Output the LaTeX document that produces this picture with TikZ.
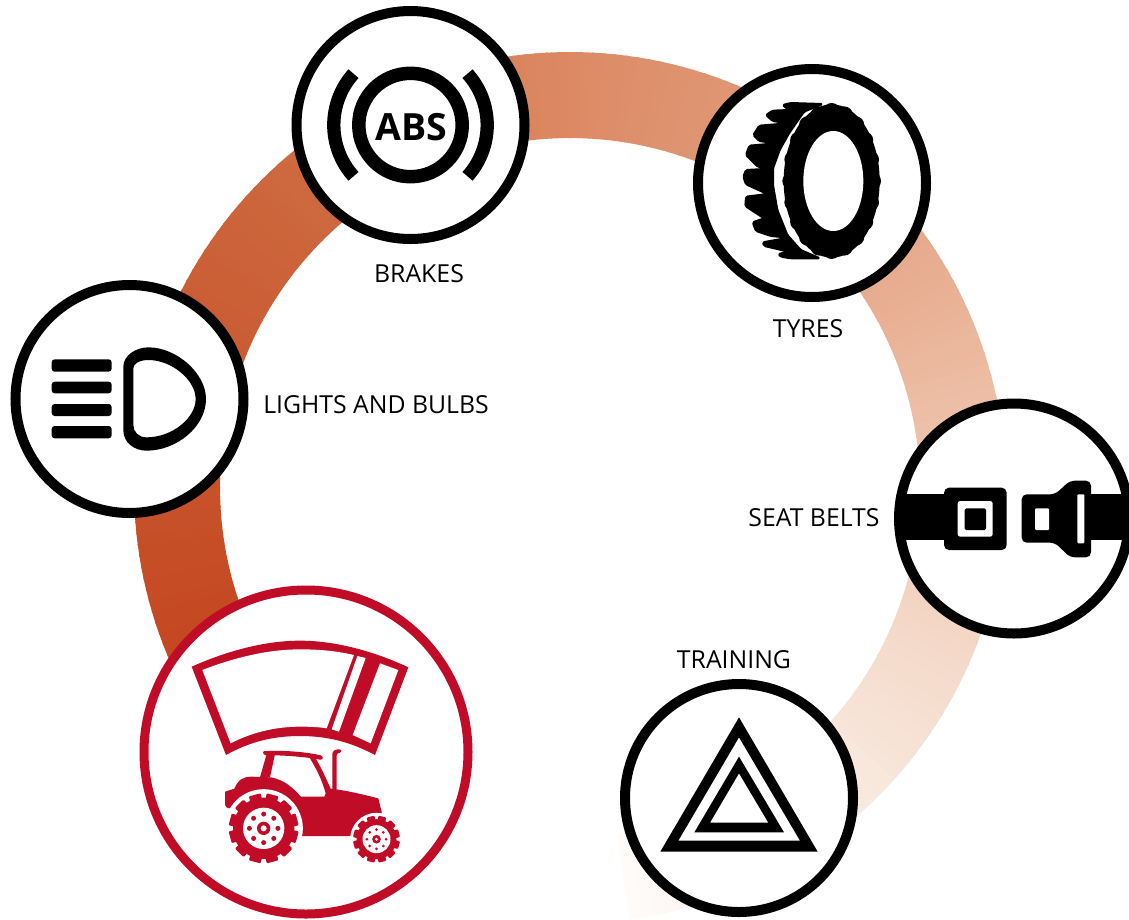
\documentclass[tikz,border=0pt]{standalone}
\usepackage{fontspec}
\usetikzlibrary{calc}
\setmainfont{Open Sans}
\definecolor{rd}{RGB}{193,12,39}
\definecolor{s0}{HTML}{C13E18}
\definecolor{s1}{HTML}{CD663C}
\definecolor{s2}{HTML}{DC8A64}
\definecolor{s3}{HTML}{E4A283}
\definecolor{s4}{HTML}{F0C8B2}
\definecolor{s5}{HTML}{F8E8DD}
\definecolor{s6}{HTML}{FEFBF9}
\tikzset{
  badge/.style={circle,draw=black,fill=white,line width=10pt,inner sep=0pt,minimum size=228pt},
  redbadge/.style={circle,draw=rd,fill=white,line width=9pt,inner sep=0pt,minimum size=324pt},
  lbl/.style={font=\fontsize{24.8}{28}\selectfont,text=black,inner sep=0pt},
  zoomed/.style={scale=0.33333}
}
\newcommand{\gearwheel}[9]{% cx cy R body lugw rim hub hole studR
  \begin{scope}[shift={(#1,#2)}]
    \fill[white] (0,0) circle (#3*1.13);
    \fill[rd] (0,0) circle (#4);
    \foreach \g in {0,30,...,330}{
      \fill[rd,rotate=\g+15,rounded corners=1pt] (#4-12,-#5/2) rectangle (#3,#5/2);
    }
    \fill[white] (0,0) circle (#6);
    \fill[rd] (0,0) circle (#7);
    \fill[white] (0,0) circle (#8);
    \foreach \g in {0,45,...,315}{
      \fill[rd] (\g:#6*0.69) circle (#9);
    }
  \end{scope}
}
\begin{document}
\begin{tikzpicture}[x=1pt,y=-1pt]
\useasboundingbox (0,0) rectangle (1129,919);
\clip (0,0) rectangle (1129,919);
\coordinate (ringc) at (570,488);
% gradient ring
\foreach \aa/\ab/\ca/\cb in {225/135/s0/s1,135/90/s1/s2,90/45/s2/s3,45/0/s3/s4,0/-45/s4/s5,-45/-82/s5/s6}{
  \pgfmathsetmacro{\nst}{int((\aa-\ab)/1.5)}
  \foreach \i in {1,...,\nst}{
    \pgfmathsetmacro{\tt}{100*(\i-0.5)/\nst}
    \pgfmathsetmacro{\ta}{\aa-(\aa-\ab)*(\i-1)/\nst+0.15}
    \pgfmathsetmacro{\tb}{\aa-(\aa-\ab)*\i/\nst-0.15}
    \colorlet{seg}{\cb!\tt!\ca}
    \fill[seg] ($(ringc)+({436*cos(\ta)},{-436*sin(\ta)})$) -- ($(ringc)+({436*cos(\tb)},{-436*sin(\tb)})$) -- ($(ringc)+({350*cos(\tb)},{-350*sin(\tb)})$) -- ($(ringc)+({350*cos(\ta)},{-350*sin(\ta)})$) -- cycle;
  }
}
% badges
\node[badge] (brakes) at (410.5,125) {};
\node[badge] (tyres) at (812,183) {};
\node[badge] (lights) at (129.5,399) {};
\node[badge,minimum size=230pt] (belts) at (1014,518.5) {};
\node[badge] (training) at (739,798) {};
\node[redbadge] (tractor) at (306,752) {};
% labels
\node[lbl] (lbrakes) at (419,273.5) {BRAKES};
\node[lbl] (ltyres) at (808,328.5) {TYRES};
\node[lbl] (llights) at (376,404.5) {LIGHTS AND BULBS};
\node[lbl] (lbelts) at (814,517.5) {SEAT BELTS};
\node[lbl] (ltrain) at (734,659.5) {TRAINING};
% ABS icon
\draw[black,line width=13.5pt] (brakes.center) circle (51.7);
\draw[black,line width=13.3pt] ($(brakes.center)+({76.7*cos(138)},{76.7*sin(138)})$) arc[start angle=138,end angle=222,radius=76.7];
\draw[black,line width=13.3pt] ($(brakes.center)+({76.7*cos(-42)},{76.7*sin(-42)})$) arc[start angle=-42,end angle=42,radius=76.7];
\node[font=\fontsize{37.5}{39}\selectfont\bfseries,inner sep=0pt,text=black] (abs) at (411,127) {ABS};
% tyre icon
\begin{scope}[shift={(690,70)},zoomed]
  \filldraw[black,line width=2pt,line join=round,rounded corners=1.5pt] (398,102) -- (302,99) -- (278,105) -- (296,120) -- (248,122) -- (228,135) -- (248,153) -- (292,160) -- (208,167) -- (190,195) -- (208,213) -- (256,220) -- (178,227) -- (168,255) -- (203,290) -- (240,296) -- (168,300) -- (160,320) -- (168,343) -- (232,372) -- (168,380) -- (166,408) -- (222,445) -- (188,457) -- (198,483) -- (243,498) -- (296,503) -- (218,517) -- (223,528) -- (296,545) -- (265,552) -- (273,560) -- (302,565) -- (390,565) -- (332,540) -- (292,495) -- (262,420) -- (249,345) -- (249,295) -- (269,240) -- (297,190) -- (342,125) -- cycle;
  \fill[black] (425,333) ellipse [x radius=144,y radius=230];
  \foreach \t in {0,18,...,342}{
    \fill[black] ({425+122*cos(\t)},{333+208*sin(\t)}) circle (26);
  }
  \fill[white] (430,333) ellipse [x radius=90,y radius=150];
\end{scope}
% lights icon
\begin{scope}[shift={(30,330)},zoomed]
  \fill[black,rounded corners=3pt] (65,88) rectangle (245,125);
  \fill[black,rounded corners=3pt] (65,155) rectangle (245,190);
  \fill[black,rounded corners=3pt] (65,222) rectangle (245,258);
  \fill[black,rounded corners=3pt] (65,288) rectangle (245,325);
  \fill[black,even odd rule] (280,110) .. controls (280,75) and (320,52) .. (355,52)
    .. controls (440,52) and (528,130) .. (528,207)
    .. controls (528,290) and (440,362) .. (350,362)
    .. controls (315,362) and (280,340) .. (280,300) -- cycle
    (310,115) .. controls (310,100) and (330,90) .. (355,90)
    .. controls (425,90) and (497,150) .. (497,207)
    .. controls (497,265) and (425,322) .. (350,322)
    .. controls (325,322) and (310,305) .. (310,285) -- cycle;
\end{scope}
% seat belt icon
\begin{scope}[shift={(890,450)},zoomed]
  \clip (372,205) circle (345);
  \fill[black] (0,133) rectangle (200,270);
  \fill[black] (590,133) rectangle (800,270);
  \fill[black,rounded corners=5pt] (162,113) rectangle (350,300);
  \fill[white,rounded corners=2.5pt] (203,153) rectangle (308,260);
  \fill[black,rounded corners=1.5pt] (224,175) rectangle (288,240);
  \fill[black,rounded corners=5pt] (395,133) -- (495,133) -- (540,92) -- (603,92) -- (603,322) -- (540,322) -- (495,278) -- (395,278) -- cycle;
  \fill[white,rounded corners=1pt] (435,175) rectangle (477,240);
  \fill[white,rounded corners=1pt] (562,133) rectangle (583,280);
\end{scope}
% triangle icon
\begin{scope}[shift={(600,670)},zoomed]
  \fill[black,even odd rule] (417,142) -- (653,545) -- (181,545) -- cycle (417,202) -- (600,512) -- (235,512) -- cycle;
  \fill[black,even odd rule] (417,260) -- (552,487) -- (283,487) -- cycle (417,310) -- (505,458) -- (330,458) -- cycle;
\end{scope}
% windscreen icon
\begin{scope}[shift={(130,580)},zoomed]
  \fill[rd] (185,260) .. controls (270,222) and (390,182) .. (510,182) .. controls (630,182) and (750,222) .. (835,262) -- (735,525) .. controls (660,485) and (590,468) .. (510,468) .. controls (430,468) and (360,485) .. (288,525) -- cycle;
  \fill[white] (217,270) .. controls (320,230) and (420,208) .. (510,208) .. controls (570,208) and (620,213) .. (672,225) -- (590,445) .. controls (560,440) and (530,440) .. (510,440) .. controls (430,440) and (360,460) .. (302,490) -- cycle;
  \fill[white] (682,228) -- (707,234) -- (627,455) -- (605,448) -- cycle;
  \fill[white] (750,250) -- (805,270) -- (722,490) -- (668,465) -- cycle;
\end{scope}
% tractor icon
\begin{scope}[shift={(215,740)},zoomed]
  \fill[rd,rounded corners=1.5pt] (142,34) .. controls (200,30) and (270,35) .. (322,47) -- (325,55) -- (320,60) .. controls (270,50) and (200,45) .. (148,46) -- cycle;
  \fill[rd] (155,42) -- (180,42) -- (165,112) -- (135,112) -- cycle;
  \fill[rd,rounded corners=1pt] (352,150) -- (352,45) .. controls (352,32) and (362,27) .. (378,28) -- (378,38) .. controls (368,38) and (365,42) .. (365,50) -- (365,150) -- cycle;
  \fill[rd] (30,155) -- (58,146) .. controls (70,118) and (85,110) .. (110,110) -- (168,112) .. controls (210,120) and (235,145) .. (258,170) -- (328,170) -- (332,160) .. controls (320,115) and (300,80) .. (285,55) -- (300,52) .. controls (320,85) and (335,120) .. (347,146) -- (365,148) .. controls (410,155) and (450,165) .. (490,175) -- (500,215) -- (500,288) -- (100,288) -- (100,200) -- (45,205) .. controls (35,205) and (30,200) .. (30,190) -- cycle;
  \gearwheel{146}{265}{104}{92}{36}{62}{20}{9}{7.5}
  \gearwheel{484.5}{297.5}{70}{60}{24}{42}{13}{5}{4.5}
\end{scope}
\end{tikzpicture}
\end{document}
